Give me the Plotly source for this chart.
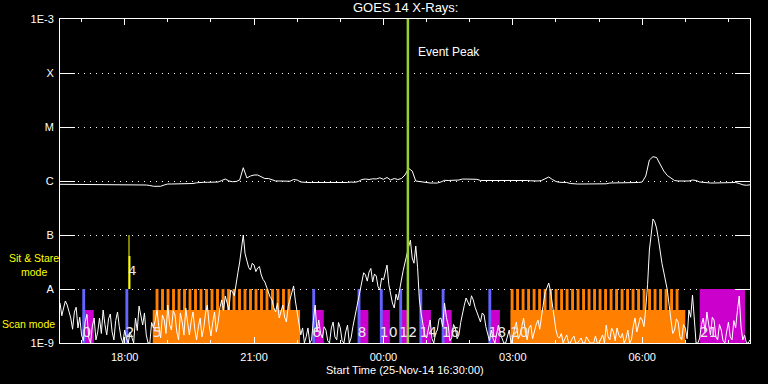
import pandas as pd
import plotly.graph_objects as go

# ---------------- data ----------------
START = "2014-11-25 16:30"
END = "2014-11-26 08:30"
EVENT_PEAK = "2014-11-26 00:34"

# GOES-14 1-8 A channel, 5-minute samples from START, units of 1e-6 W/m^2
long_channel = [
    0.869, 0.869, 0.869, 0.869, 0.861, 0.843, 0.843, 0.843, 0.843, 0.843, 0.843, 0.843,
    0.843, 0.843, 0.843, 0.843, 0.843, 0.843, 0.843, 0.861, 0.861, 0.861, 0.861, 0.850,
    0.843, 0.825, 0.798, 0.798, 0.798, 0.843, 0.880, 0.880, 0.880, 0.880, 0.880, 0.880,
    0.880, 0.899, 0.926, 0.946, 0.946, 0.946, 0.946, 0.946, 0.958, 1.022, 1.089, 1.000,
    0.971, 0.979, 1.043, 1.763, 1.137, 1.238, 1.291, 1.291, 1.211, 1.112, 1.112, 1.066,
    1.000, 1.000, 1.000, 0.990, 0.990, 1.066, 1.043, 0.958, 0.938, 0.938, 0.938, 0.938,
    0.938, 0.926, 0.938, 0.938, 0.926, 0.938, 0.938, 0.946, 0.938, 0.958, 0.946, 0.979,
    1.066, 1.089, 1.066, 1.098, 1.089, 1.146, 1.075, 1.161, 1.043, 1.112, 1.066, 1.112,
    1.291, 1.718, 1.531, 1.000, 0.979, 0.938, 0.918, 0.918, 0.918, 0.918, 0.958, 1.030,
    1.022, 1.030, 1.030, 1.043, 1.089, 1.089, 1.089, 1.089, 1.075, 1.022, 1.022, 1.022,
    1.022, 1.022, 1.022, 1.030, 1.022, 1.030, 1.043, 1.043, 1.052, 1.043, 1.022, 1.009,
    1.000, 1.000, 1.022, 1.112, 1.186, 1.066, 0.979, 0.946, 0.946, 0.938, 0.899, 0.880,
    0.880, 0.880, 0.880, 0.880, 0.880, 0.880, 0.880, 0.880, 0.887, 0.918, 0.918, 0.918,
    0.918, 0.918, 0.918, 0.918, 0.926, 0.938, 0.958, 1.238, 2.448, 2.818, 2.723, 1.979,
    1.531, 1.264, 1.137, 1.022, 1.000, 1.000, 0.987, 1.000, 1.043, 1.022, 0.958, 0.938,
    0.918, 0.918, 0.918, 0.918, 0.918, 0.918, 0.918, 0.918, 0.938, 0.899, 0.850, 0.833,
    0.850,
]

# GOES-14 0.5-4 A channel, 2.5-minute samples from START, units of 1e-9 W/m^2
short_channel = [
    5.51, 3.2, 4.45, 6.0, 5.05, 3.9, 2.90, 1.8, 3.75, 4.6, 1.90, 3.0, 1.41, 1.1, 2.45, 3.4, 1.24, 1.0, 2.06, 2.9, 1.14, 1.6, 2.90, 1.5,
    4.08, 2.2, 1.41, 2.8, 3.44, 1.6, 1.14, 2.6, 3.75, 2.0, 1.24, 1.0, 1.74, 1.2, 1.00, 1.6, 1.24, 1.0, 2.90, 1.7, 4.84, 3.3, 2.15, 3.6,
    1.41, 1.0, 1.00, 2.4, 1.90, 2.6, 4.08, 2.0, 1.24, 3.3, 2.67, 1.5, 5.05, 2.2, 1.74, 4.0, 3.30, 1.6, 1.14, 3.6, 2.45, 1.4, 4.45, 2.4,
    1.41, 2.5, 3.75, 1.8, 1.14, 2.0, 2.90, 1.3, 1.90, 3.6, 5.05, 2.2, 1.35, 2.4, 3.75, 1.6, 2.45, 4.5, 6.26, 4.0, 7.42, 5.5, 4.08, 9.6,
    8.80, 7.5, 13.5, 20.0, 31.6, 55.0, 100.0, 45.0, 31.6, 25.0, 22.5, 30.0, 27.8, 21.0, 24.5, 26.0, 18.2, 15.0, 13.5, 11.0, 8.80, 7.0, 6.26, 4.5,
    3.75, 5.5, 2.90, 3.9, 5.05, 3.0, 2.45, 4.8, 6.26, 8.0, 11.4, 6.0, 3.75, 2.4, 1.41, 1.9, 1.00, 1.3, 1.90, 1.0, 1.14, 2.6, 5.05, 1.6,
    2.67, 1.5, 1.24, 2.0, 1.74, 1.1, 1.00, 1.9, 2.45, 1.3, 1.14, 2.4, 1.90, 1.1, 1.00, 1.6, 2.15, 1.0, 1.24, 2.0, 2.90, 4.0, 6.26, 9.0,
    11.9, 20.0, 18.2, 14.0, 20.6, 24.0, 13.5, 19.0, 17.4, 11.0, 9.58, 16.0, 14.7, 21.0, 27.8, 12.0, 7.74, 5.5, 4.45, 8.0, 6.26, 9.0, 14.7, 22.0,
    31.6, 45.0, 59.9, 80.0, 37.5, 30.0, 62.5, 25.0, 6.26, 3.5, 2.15, 1.4, 1.24, 2.0, 2.67, 1.2, 1.00, 1.5, 1.74, 2.8, 2.90, 2.0, 5.51, 3.0,
    2.15, 1.1, 1.24, 2.2, 1.90, 1.2, 1.41, 2.4, 3.75, 5.0, 6.81, 5.5, 4.84, 7.5, 6.26, 4.6, 3.75, 2.9, 2.45, 3.6, 3.30, 2.0, 1.41, 1.1,
    1.74, 1.2, 1.00, 1.4, 2.15, 1.5, 1.24, 1.0, 1.00, 1.3, 1.74, 1.0, 1.24, 1.9, 2.45, 1.2, 1.41, 2.0, 2.90, 1.6, 1.14, 1.9, 2.15, 1.2,
    1.74, 2.2, 2.67, 1.8, 3.16, 5.0, 8.80, 10.5, 12.9, 9.0, 5.05, 2.8, 1.74, 1.3, 1.24, 1.5, 1.00, 1.2, 1.41, 1.0, 1.00, 1.2, 1.35, 1.0,
    1.00, 1.1, 1.24, 1.0, 1.00, 1.3, 1.14, 1.0, 1.00, 1.0, 1.35, 1.0, 1.00, 1.2, 1.41, 1.0, 2.15, 1.3, 1.14, 1.9, 1.60, 1.1, 1.90, 1.4,
    1.24, 1.5, 1.00, 1.2, 1.74, 1.0, 1.14, 2.0, 2.90, 1.6, 2.15, 3.0, 2.67, 2.0, 4.45, 12.0, 52.7, 120.0, 198.0, 175.0, 135.0, 85.0, 48.4, 30.0,
    20.6, 14.0, 9.58, 5.0, 2.90, 1.5, 1.74, 2.8, 2.45, 1.3, 1.14, 2.2, 1.90, 1.2, 4.08, 3.0, 7.74, 2.5, 1.00, 1.0, 1.24, 2.2, 2.90, 1.6,
    3.75, 2.2, 1.41, 3.0, 2.67, 1.3, 1.14, 2.2, 1.74, 1.1, 1.00, 1.6, 2.45, 1.3, 1.14, 2.6, 1.90, 4.0, 7.42, 2.0, 1.14, 1.4, 1.00, 1.0,
    1.14,
]

# observation timeline
blue_start = ["2014-11-25 17:01", "2014-11-25 18:01", "2014-11-25 22:21", "2014-11-25 23:24",
              "2014-11-25 23:55", "2014-11-26 00:22", "2014-11-26 00:50", "2014-11-26 01:21",
              "2014-11-26 02:26"]
blue_end = ["2014-11-25 17:05", "2014-11-25 18:05", "2014-11-25 22:25", "2014-11-25 23:28",
            "2014-11-25 23:59", "2014-11-26 00:26", "2014-11-26 00:54", "2014-11-26 01:25",
            "2014-11-26 02:30"]
sit_start = ["2014-11-25 17:04", "2014-11-25 22:25", "2014-11-25 23:27", "2014-11-25 23:58",
             "2014-11-26 00:24", "2014-11-26 00:53", "2014-11-26 01:24", "2014-11-26 02:29"]
sit_end = ["2014-11-25 17:17", "2014-11-25 22:37", "2014-11-25 23:39", "2014-11-26 00:09",
           "2014-11-26 00:33", "2014-11-26 01:06", "2014-11-26 01:35", "2014-11-26 02:42"]
long_sit_start = ["2014-11-26 07:20"]
long_sit_end = ["2014-11-26 08:23"]
yellow_start = ["2014-11-25 18:05"]
yellow_end = ["2014-11-25 18:08"]
yellow_thin = ["2014-11-25 18:06"]
scan_start = ["2014-11-25 18:39", "2014-11-26 02:57"]
scan_end = ["2014-11-25 22:04", "2014-11-26 07:00"]
raster_first = ["2014-11-25 18:43", "2014-11-26 02:57"]
raster_count = [25, 31]
raster_step_min = 7.65
raster_len_min = 4.0

obs_labels = ["0", "2", "5", "6", "8", "10", "12", "14", "16", "18", "20", "21"]
obs_label_times = ["2014-11-25 17:01", "2014-11-25 18:01", "2014-11-25 18:39", "2014-11-25 22:21",
                   "2014-11-25 23:24", "2014-11-25 23:55", "2014-11-26 00:22", "2014-11-26 00:50",
                   "2014-11-26 01:21", "2014-11-26 02:26", "2014-11-26 02:57", "2014-11-26 07:20"]

y_tickvals = [1e-9, 1e-8, 1e-7, 1e-6, 1e-5, 1e-4, 1e-3]
y_ticktext = ["1E-9", "A", "B", "C", "M", "X", "1E-3"]

# ---------------- styling constants ----------------
FLOOR = 1e-9
SCAN_TOP = 4.1e-9
MODE_TOP = 1e-8
LABEL_Y = 1.5e-9
FONT = "Liberation Sans"
ORANGE = "#ff8000"
MAGENTA = "#cc00cc"
BLUE = "#6464ff"
YELLOW = "#ffff00"
PEAK = "#9acd32"

long_times = pd.date_range(START, periods=len(long_channel), freq="5min")
short_times = pd.date_range(START, periods=len(short_channel), freq="150s")
long_flux = [v * 1e-6 for v in long_channel]
short_flux = [v * 1e-9 for v in short_channel]


def rect_path(starts, ends, bottom, top):
    xs, ys = [], []
    for s, e in zip(starts, ends):
        s, e = pd.Timestamp(s), pd.Timestamp(e)
        xs += [s, s, e, e, s, None]
        ys += [bottom, top, top, bottom, bottom, None]
    return xs, ys


def filled(xs, ys, color):
    return go.Scatter(x=xs, y=ys, mode="lines", fill="toself", fillcolor=color,
                      line=dict(width=0, color=color), hoverinfo="skip")


fig = go.Figure()

# scan blocks (low boxes + raster teeth)
fig.add_trace(filled(*rect_path(scan_start, scan_end, FLOOR, SCAN_TOP), ORANGE))
t_s, t_e = [], []
for first, n in zip(raster_first, raster_count):
    t0 = pd.Timestamp(first)
    for k in range(n):
        a = t0 + pd.Timedelta(minutes=raster_step_min * k)
        t_s.append(a)
        t_e.append(a + pd.Timedelta(minutes=raster_len_min))
fig.add_trace(filled(*rect_path(t_s, t_e, FLOOR, MODE_TOP), ORANGE))

# sit & stare blocks
fig.add_trace(filled(*rect_path(sit_start, sit_end, FLOOR, SCAN_TOP), MAGENTA))
fig.add_trace(filled(*rect_path(long_sit_start, long_sit_end, FLOOR, MODE_TOP), MAGENTA))
fig.add_trace(filled(*rect_path(blue_start, blue_end, FLOOR, MODE_TOP), BLUE))
fig.add_trace(filled(*rect_path(yellow_start, yellow_end, MODE_TOP, 4.1e-8), YELLOW))
fig.add_trace(go.Scatter(x=yellow_thin * 2, y=[4.1e-8, 1e-7], mode="lines",
                         line=dict(color=YELLOW, width=1), hoverinfo="skip"))

# GOES curves
fig.add_trace(go.Scatter(x=short_times, y=short_flux, mode="lines",
                         line=dict(color="white", width=1), hoverinfo="skip"))
fig.add_trace(go.Scatter(x=long_times, y=long_flux, mode="lines",
                         line=dict(color="white", width=1), hoverinfo="skip"))

# event peak
fig.add_trace(go.Scatter(x=[EVENT_PEAK, EVENT_PEAK], y=[1e-9, 1e-3], mode="lines",
                         line=dict(color=PEAK, width=2.5), hoverinfo="skip"))

# observation numbers
fig.add_trace(go.Scatter(x=obs_label_times, y=[LABEL_Y] * len(obs_labels), mode="text",
                         text=obs_labels, textposition="middle right",
                         textfont=dict(family="DejaVu Sans", size=14, color="#e8e8e8"),
                         hoverinfo="skip"))
fig.add_trace(go.Scatter(x=yellow_start, y=[2.07e-8], mode="text", text=["4"],
                         textposition="middle right",
                         textfont=dict(family="DejaVu Sans", size=13, color="#e8e8e8"),
                         hoverinfo="skip"))

fig.update_layout(
    width=768, height=384,
    margin=dict(l=60, r=18, t=19, b=41),
    paper_bgcolor="black", plot_bgcolor="black",
    showlegend=False,
    font=dict(family=FONT, size=11, color="white"),
    xaxis=dict(
        type="date", range=[START, END],
        tickformat="%H:%M", tick0="2014-11-25 18:00", dtick=3 * 3600 * 1000,
        ticks="inside", ticklen=6, tickwidth=1, tickcolor="white",
        showline=True, linecolor="white", linewidth=1, mirror="ticks",
        showgrid=False, zeroline=False, ticklabelstandoff=4,
        tickfont=dict(family=FONT, size=11, color="white"),
        minor=dict(dtick=3600 * 1000, tick0="2014-11-25 17:00", ticks="inside",
                   ticklen=3, tickwidth=1, tickcolor="white", showgrid=False),
    ),
    yaxis=dict(
        type="log", range=[-9, -3],
        tickvals=y_tickvals, ticktext=y_ticktext,
        ticks="inside", ticklen=15, tickwidth=1, tickcolor="white",
        showline=True, linecolor="white", linewidth=1, mirror="ticks",
        showgrid=True, gridcolor="white", gridwidth=1, griddash="1px,5px",
        zeroline=False, ticklabelstandoff=3,
        tickfont=dict(family=FONT, size=11, color="white"),
    ),
    annotations=[
        dict(text="GOES 14 X-Rays:", xref="paper", yref="paper", x=0.5, y=1,
             yanchor="bottom", yshift=2, showarrow=False,
             font=dict(family=FONT, size=13, color="white")),
        dict(text="Start Time (25-Nov-14 16:30:00)", xref="paper", yref="paper",
             x=0.5, y=0, yanchor="top", yshift=-19, showarrow=False,
             font=dict(family=FONT, size=11, color="white")),
        dict(text="Event Peak", xref="x", yref="paper", x=EVENT_PEAK, y=0.926,
             xanchor="left", xshift=8, showarrow=False,
             font=dict(family=FONT, size=12, color="white")),
        dict(text="Sit & Stare<br>mode", xref="paper", yref="paper", x=-0.0374, y=0.2407,
             xanchor="center", yanchor="middle", showarrow=False,
             font=dict(family=FONT, size=10.5, color=YELLOW)),
        dict(text="Scan mode", xref="paper", yref="paper", x=-0.046, y=0.0586,
             xanchor="center", yanchor="middle", showarrow=False,
             font=dict(family=FONT, size=10.5, color=YELLOW)),
    ],
)

fig.write_html(
    "out.html",
    config={"displayModeBar": False},
    post_script="document.body.style.margin='0';document.body.style.background='black';",
)
